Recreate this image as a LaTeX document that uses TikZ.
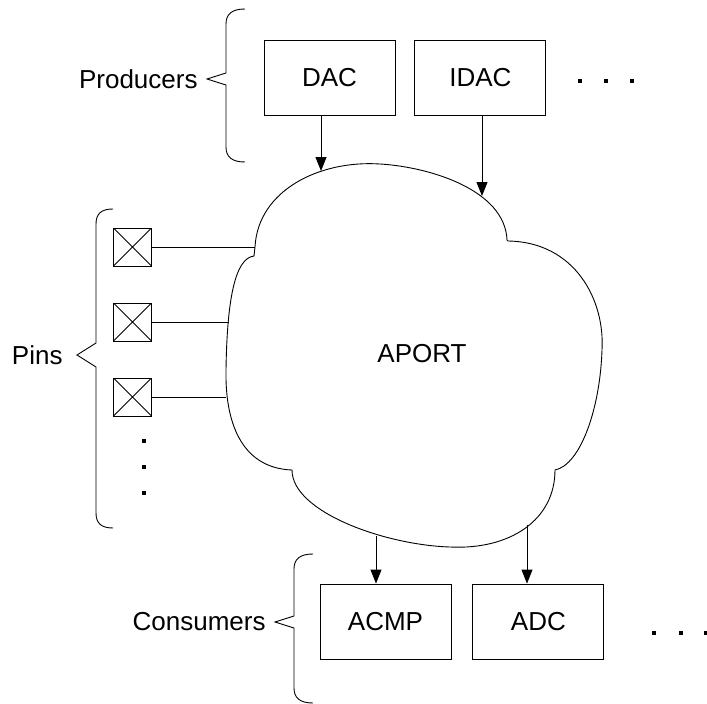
\documentclass[tikz,border=0pt]{standalone}
\usepackage{fontspec}
\setmainfont{Liberation Sans}
\usetikzlibrary{arrows.meta, positioning}

\begin{document}
\begin{tikzpicture}[x=1pt, y=-1pt, >={Triangle[length=14pt,width=11pt]}, line width=0.9pt, node distance=19pt,
  every node/.style={font=\fontsize{26}{31}\selectfont},
  unitbox/.style={draw, rectangle, minimum width=131pt, minimum height=75pt, inner sep=0pt},
  pinbox/.style={draw, rectangle, minimum size=38pt, inner sep=0pt,
    path picture={\draw (path picture bounding box.south west) -- (path picture bounding box.north east)
      (path picture bounding box.north west) -- (path picture bounding box.south east);}},
  dotmark/.style={fill, rectangle, minimum size=4.5pt, inner sep=0pt}]
  \useasboundingbox (0,0) rectangle (707,704);

  % Producers
  \node[unitbox] (DAC) at (329.5,77.5) {DAC};
  \node[unitbox, right=of DAC] (IDAC) {IDAC};
  \node[dotmark] (pd1) at (580,81) {};
  \node[dotmark] (pd2) at (606,81) {};
  \node[dotmark] (pd3) at (632,81) {};
  \draw (245,9) .. controls (232,9) and (226,14) .. (226,24) -- (226,73) -- (207,79) -- (226,85)
    -- (226,147) .. controls (226,157) and (232,162) .. (245,162);
  \coordinate (prodtip) at (207,79);
  \node[left=9pt of prodtip, inner sep=0pt] (prodlbl) {Producers};

  % APORT cloud
  \draw (255,247) .. controls (258,190) and (320,160) .. (380,164) .. controls (430,167) and (505,190) .. (507,240)
    -- (508,241) .. controls (575,242) and (605,300) .. (602,350) .. controls (600,410) and (580,465) .. (555,470)
    .. controls (555,520) and (510,550) .. (450,547) .. controls (385,545) and (292,512) .. (292,470)
    .. controls (240,468) and (225,420) .. (226,370) .. controls (227,300) and (235,258) .. (254,256) -- cycle;
  \node (aport) at (422,354) {APORT};
  \coordinate (inDAC) at (321,171);
  \coordinate (inIDAC) at (482,196);
  \coordinate (outACMP) at (376,536);
  \coordinate (outADC) at (527,525);
  \coordinate (pin1in) at (255,247);
  \coordinate (pin2in) at (229,322);
  \coordinate (pin3in) at (226,397);

  \draw[->] (DAC.south -| inDAC) -- (inDAC);
  \draw[->] (IDAC.south -| inIDAC) -- (inIDAC);

  % Pins
  \node[pinbox] (pin1) at (132.5,247) {};
  \node[pinbox] (pin2) at (132.5,322) {};
  \node[pinbox] (pin3) at (132.5,397) {};
  \draw (pin1) -- (pin1in);
  \draw (pin2) -- (pin2in);
  \draw (pin3) -- (pin3in);
  \node[dotmark] (pv1) at (144,441) {};
  \node[dotmark] (pv2) at (144,467) {};
  \node[dotmark] (pv3) at (144,493) {};
  \draw (113,209) .. controls (101,209) and (96,214) .. (96,224) -- (96,343) -- (77,355) -- (96,367)
    -- (96,513) .. controls (96,523) and (101,528) .. (113,528);
  \coordinate (pintip) at (77,355);
  \node[left=14pt of pintip, inner sep=0pt] (pinlbl) {Pins};

  % Consumers
  \node[unitbox] (ACMP) at (385.5,621.5) {ACMP};
  \node[unitbox, right=21pt of ACMP] (ADC) {ADC};
  \node[dotmark] (cd1) at (654,633) {};
  \node[dotmark] (cd2) at (681,633) {};
  \node[dotmark] (cd3) at (706,633) {};
  \draw[->] (outACMP) -- (outACMP |- ACMP.north);
  \draw[->] (outADC) -- (outADC |- ADC.north);
  \draw (313,554) .. controls (300,554) and (294,559) .. (294,569) -- (294,616) -- (275,622) -- (294,628)
    -- (294,688) .. controls (294,698) and (300,703) .. (313,703);
  \coordinate (constip) at (275,622);
  \node[left=9pt of constip, inner sep=0pt] (conslbl) {Consumers};
\end{tikzpicture}
\end{document}
